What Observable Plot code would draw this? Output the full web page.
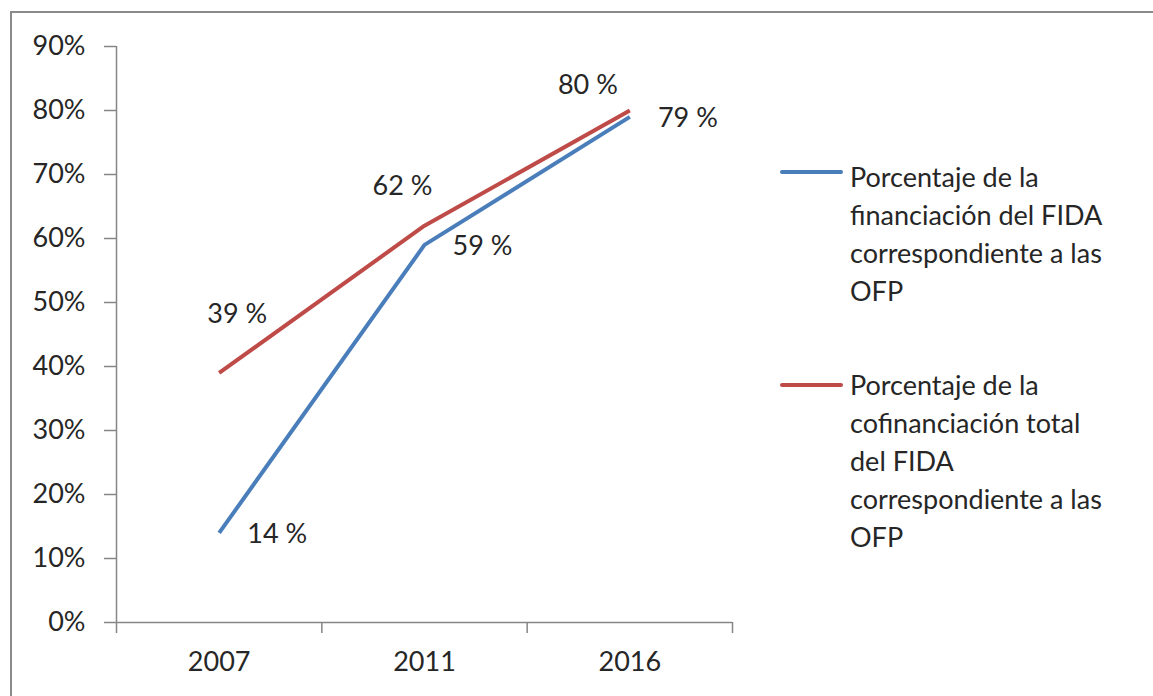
<!DOCTYPE html>
<html><head><meta charset="utf-8">
<script src="https://cdn.jsdelivr.net/npm/d3@7"></script>
<script src="https://cdn.jsdelivr.net/npm/@observablehq/plot@0.6"></script>
<style>
body{margin:0;background:#fff;font-family:Lato,sans-serif;}
#wrap{position:relative;width:1153px;height:696px;overflow:hidden;background:#fff;}
#frame{position:absolute;left:10px;top:11px;width:1300px;height:900px;border-left:2px solid #8a8a8a;border-top:2px solid #8a8a8a;}
#chart{position:absolute;left:0;top:0;}
.leg{position:absolute;left:850px;font-size:27px;line-height:38px;color:#262626;white-space:pre;}
.sw{position:absolute;left:780px;width:63px;height:4px;border-radius:2px;}
</style></head><body>
<div id="wrap"><div id="frame"></div><div id="chart"></div></div>
<script>
const years = ["2007", "2011", "2016"];
const fidaShare = [0.14, 0.59, 0.79];
const cofinShare = [0.39, 0.62, 0.80];
const seriesNames = [
  "Porcentaje de la\nfinanciación del FIDA\ncorrespondiente a las\nOFP",
  "Porcentaje de la\ncofinanciación total\ndel FIDA\ncorrespondiente a las\nOFP"
];
const seriesColors = ["#4a7ebb", "#be4b48"];
const yTicks = [0, 0.1, 0.2, 0.3, 0.4, 0.5, 0.6, 0.7, 0.8, 0.9];

const axisColor = "#868686";
const textColor = "#262626";

const rows = [];
years.forEach((y, i) => rows.push({i, year: y, value: fidaShare[i], series: seriesNames[0]}));
years.forEach((y, i) => rows.push({i, year: y, value: cofinShare[i], series: seriesNames[1]}));
const blueRows = rows.filter(d => d.series === seriesNames[0]);
const redRows = rows.filter(d => d.series === seriesNames[1]);
const fmt = v => Math.round(v * 100) + " %";

// label placement offsets (layout only)
const redOffsets = [[18, -59], [-22, -39], [-42, -25]];

const plot = Plot.plot({
  width: 1153,
  height: 696,
  marginLeft: 116,
  marginRight: 421,
  marginTop: 46,
  marginBottom: 74,
  style: {fontFamily: "Lato, sans-serif", fontSize: "27px", color: textColor, background: "transparent", overflow: "visible"},
  x: {type: "linear", domain: [-0.5, 2.5]},
  y: {domain: [0, 0.9]},
  color: {domain: seriesNames, range: seriesColors},
  marks: [
    Plot.axisY({ticks: yTicks, tickSize: 12, tickPadding: 19, tickFormat: d3.format(".0%"), stroke: axisColor, strokeWidth: 1.5, fill: textColor, fontSize: 27, label: null}),
    Plot.axisX({ticks: [-0.5, 0.5, 1.5, 2.5], tickSize: 11, tickFormat: () => "", stroke: axisColor, strokeWidth: 1.5, label: null}),
    Plot.axisX({ticks: [0, 1, 2], tickSize: 0, tickPadding: 29, tickFormat: i => years[i], fill: textColor, fontSize: 27, label: null}),
    Plot.ruleY([0], {stroke: axisColor, strokeWidth: 1.5}),
    Plot.ruleX([-0.5], {stroke: axisColor, strokeWidth: 1.5}),
    Plot.line(rows, {x: "i", y: "value", z: "series", stroke: "series", strokeWidth: 4, strokeLinecap: "butt", strokeLinejoin: "round"}),
    Plot.text(blueRows, {x: "i", y: "value", text: d => fmt(d.value), dx: 58, dy: 1, fill: textColor, fontSize: 27}),
    ...redRows.map((d, k) => Plot.text([d], {x: "i", y: "value", text: d => fmt(d.value), dx: redOffsets[k][0], dy: redOffsets[k][1], fill: textColor, fontSize: 27}))
  ]
});
document.getElementById("chart").appendChild(plot);

const wrap = document.getElementById("wrap");
const legTops = [157.5, 365.5];
const swTops = [170, 383];
seriesNames.forEach((name, k) => {
  const sw = document.createElement("div");
  sw.className = "sw";
  sw.style.top = swTops[k] + "px";
  sw.style.background = seriesColors[k];
  wrap.appendChild(sw);
  const t = document.createElement("div");
  t.className = "leg";
  t.style.top = legTops[k] + "px";
  t.textContent = name;
  wrap.appendChild(t);
});
</script>
</body></html>
